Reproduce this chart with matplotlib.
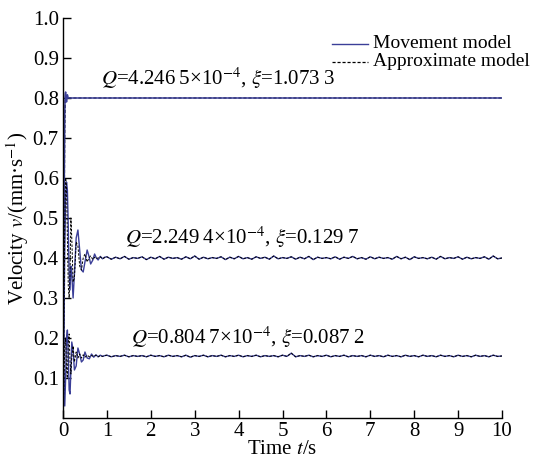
import numpy as np
import matplotlib
matplotlib.use("Agg")
import matplotlib.pyplot as plt
from matplotlib.lines import Line2D

plt.rcParams['font.family'] = ['Liberation Serif', 'DejaVu Serif']
plt.rcParams['mathtext.fontset'] = 'stix'

# ---------------- data ----------------
top_t = [0, 0.01, 0.02, 0.03, 0.04, 0.05, 0.06, 0.08, 0.10, 0.12, 0.15, 0.2, 0.5, 1.0, 10.0]
top_move = [0, 0.12, 0.35, 0.60, 0.76, 0.81, 0.815, 0.79, 0.808, 0.80, 0.80, 0.80, 0.80, 0.80, 0.80]
top_approx = [0, 0.10, 0.30, 0.55, 0.72, 0.79, 0.81, 0.80, 0.80, 0.80, 0.80, 0.80, 0.80, 0.80, 0.80]

mid_t = [0, 0.02, 0.04, 0.06, 0.08, 0.10, 0.12, 0.14, 0.16, 0.18, 0.20, 0.23, 0.26, 0.30,
         0.34, 0.38, 0.42, 0.46, 0.50, 0.55, 0.59, 0.63, 0.68, 0.72, 0.76, 0.80, 0.85, 0.90, 0.95]
mid_move = [0, 0.20, 0.42, 0.55, 0.59, 0.57, 0.48, 0.36, 0.32, 0.38, 0.36, 0.30, 0.36, 0.45,
            0.47, 0.42, 0.37, 0.365, 0.39, 0.42, 0.405, 0.385, 0.395, 0.41, 0.40, 0.395, 0.404, 0.398, 0.402]
mid_approx = [0, 0.25, 0.48, 0.60, 0.58, 0.45, 0.33, 0.30, 0.36, 0.50, 0.45, 0.34, 0.35, 0.44,
              0.43, 0.38, 0.37, 0.40, 0.41, 0.39, 0.40, 0.405, 0.396, 0.402, 0.399, 0.40, 0.403, 0.398, 0.401]

bot_t = [0, 0.02, 0.04, 0.06, 0.08, 0.10, 0.12, 0.14, 0.16, 0.18, 0.20, 0.23, 0.26, 0.30,
         0.34, 0.38, 0.42, 0.46, 0.50, 0.55, 0.60, 0.65, 0.70, 0.75, 0.80, 0.85, 0.90, 0.95]
bot_move = [0, 0.12, 0.03, 0.10, 0.20, 0.22, 0.16, 0.07, 0.06, 0.12, 0.19, 0.17, 0.12, 0.13,
            0.175, 0.16, 0.14, 0.145, 0.165, 0.15, 0.148, 0.16, 0.152, 0.158, 0.153, 0.157, 0.154, 0.156]
bot_approx = [0, 0.08, 0.18, 0.20, 0.12, 0.10, 0.19, 0.21, 0.14, 0.11, 0.15, 0.18, 0.14, 0.165,
              0.15, 0.16, 0.15, 0.158, 0.152, 0.157, 0.153, 0.156, 0.154, 0.157, 0.153, 0.156, 0.154, 0.156]

steady_t = [round(1.0 + 0.1 * i, 1) for i in range(91)]
mid_steady = [
    0.403, 0.397, 0.402, 0.398, 0.404, 0.397, 0.401, 0.399, 0.403, 0.396,
    0.402, 0.398, 0.404, 0.397, 0.402, 0.399, 0.401, 0.397, 0.403, 0.398,
    0.405, 0.397, 0.402, 0.398, 0.401, 0.399, 0.403, 0.396, 0.402, 0.398,
    0.404, 0.398, 0.401, 0.397, 0.403, 0.399, 0.402, 0.397, 0.405, 0.398,
    0.401, 0.399, 0.403, 0.397, 0.402, 0.398, 0.404, 0.396, 0.402, 0.399,
    0.401, 0.398, 0.403, 0.397, 0.402, 0.399, 0.404, 0.398, 0.401, 0.397,
    0.403, 0.398, 0.402, 0.399, 0.401, 0.397, 0.404, 0.398, 0.402, 0.396,
    0.403, 0.399, 0.401, 0.398, 0.402, 0.397, 0.404, 0.398, 0.401, 0.399,
    0.403, 0.397, 0.402, 0.398, 0.401, 0.399, 0.403, 0.397, 0.405, 0.398,
    0.400]
bot_steady = [
    0.157, 0.153, 0.156, 0.154, 0.157, 0.153, 0.156, 0.154, 0.156, 0.153,
    0.157, 0.154, 0.156, 0.153, 0.157, 0.154, 0.156, 0.153, 0.157, 0.152,
    0.156, 0.154, 0.157, 0.153, 0.156, 0.154, 0.157, 0.153, 0.156, 0.154,
    0.157, 0.153, 0.156, 0.154, 0.157, 0.153, 0.156, 0.154, 0.156, 0.153,
    0.157, 0.154, 0.162, 0.153, 0.156, 0.154, 0.157, 0.153, 0.156, 0.154,
    0.157, 0.153, 0.156, 0.154, 0.157, 0.153, 0.156, 0.154, 0.156, 0.153,
    0.157, 0.154, 0.156, 0.153, 0.157, 0.154, 0.156, 0.153, 0.157, 0.154,
    0.156, 0.153, 0.157, 0.154, 0.156, 0.153, 0.157, 0.154, 0.156, 0.153,
    0.157, 0.154, 0.156, 0.153, 0.157, 0.154, 0.156, 0.153, 0.157, 0.154,
    0.155]

labels = ["$Q$=4.246\u20095\u00d710$^{-4}$, $\\xi$=1.073\u20093",
          "$Q$=2.249\u20094\u00d710$^{-4}$, $\\xi$=0.129\u20097",
          "$Q$=0.804\u20097\u00d710$^{-4}$, $\\xi$=0.087\u20092"]
label_pos = [(3.53, 0.850), (4.08, 0.452), (4.20, 0.202)]
legend_labels = ["Movement model", "Approximate model"]
x_ticks = [0, 1, 2, 3, 4, 5, 6, 7, 8, 9, 10]
y_ticks = [0.1, 0.2, 0.3, 0.4, 0.5, 0.6, 0.7, 0.8, 0.9, 1.0]

# ---------------- plot ----------------
BLUE = '#3b3f98'
FS = 15
DASH = (0, (2.5, 1.5))
W, H = 534, 462
fig = plt.figure(figsize=(W / 100, H / 100), dpi=100)
ax = fig.add_axes([63 / W, 1 - 418 / H, 439 / W, 400 / H])

mid_t_all = mid_t + steady_t
bot_t_all = bot_t + steady_t
ax.plot(top_t, top_approx, color='black', lw=0.9, ls=DASH)
ax.plot(top_t, top_move, color=BLUE, lw=1.1)
ax.plot(mid_t_all, mid_move + mid_steady, color=BLUE, lw=1.0)
ax.plot(bot_t_all, bot_move + bot_steady, color=BLUE, lw=1.0)
ax.plot(mid_t_all, mid_approx + mid_steady, color='black', lw=0.7, ls=DASH)
ax.plot(bot_t_all, bot_approx + bot_steady, color='black', lw=0.7, ls=DASH)

for txt, (x, y) in zip(labels, label_pos):
    ax.text(x, y, txt, fontsize=FS, ha='center', va='center')

ax.set_xlim(0, 10)
ax.set_ylim(0, 1.0)
ax.set_xticks(x_ticks)
ax.set_xticklabels([str(v) for v in x_ticks])
ax.set_yticks(y_ticks)
ax.set_yticklabels([f"{v:.1f}" for v in y_ticks])
ax.tick_params(direction='in', length=6, width=1.0, labelsize=FS, pad=3)
for s in ['top', 'right']:
    ax.spines[s].set_visible(False)
for s in ['left', 'bottom']:
    ax.spines[s].set_linewidth(1.0)

ax.set_xlabel("Time $t$/s", fontsize=FS, labelpad=-1)
ax.set_ylabel("Velocity $v$/(mm\u00b7s$^{-1}$)", fontsize=FS, labelpad=1)

# legend (drawn manually, placed like the reference)
LFS = 14
leg_rows = [44, 62]
leg_styles = [dict(color=BLUE, lw=1.0), dict(color='black', lw=0.9, ls=DASH)]
for lab, yy, st in zip(legend_labels, leg_rows, leg_styles):
    fig.add_artist(Line2D([332 / W, 368 / W], [1 - yy / H] * 2, transform=fig.transFigure, **st))
    fig.text(373 / W, 1 - yy / H, lab, fontsize=LFS, ha='left', va='center')

fig.savefig("out.png", dpi=100)
